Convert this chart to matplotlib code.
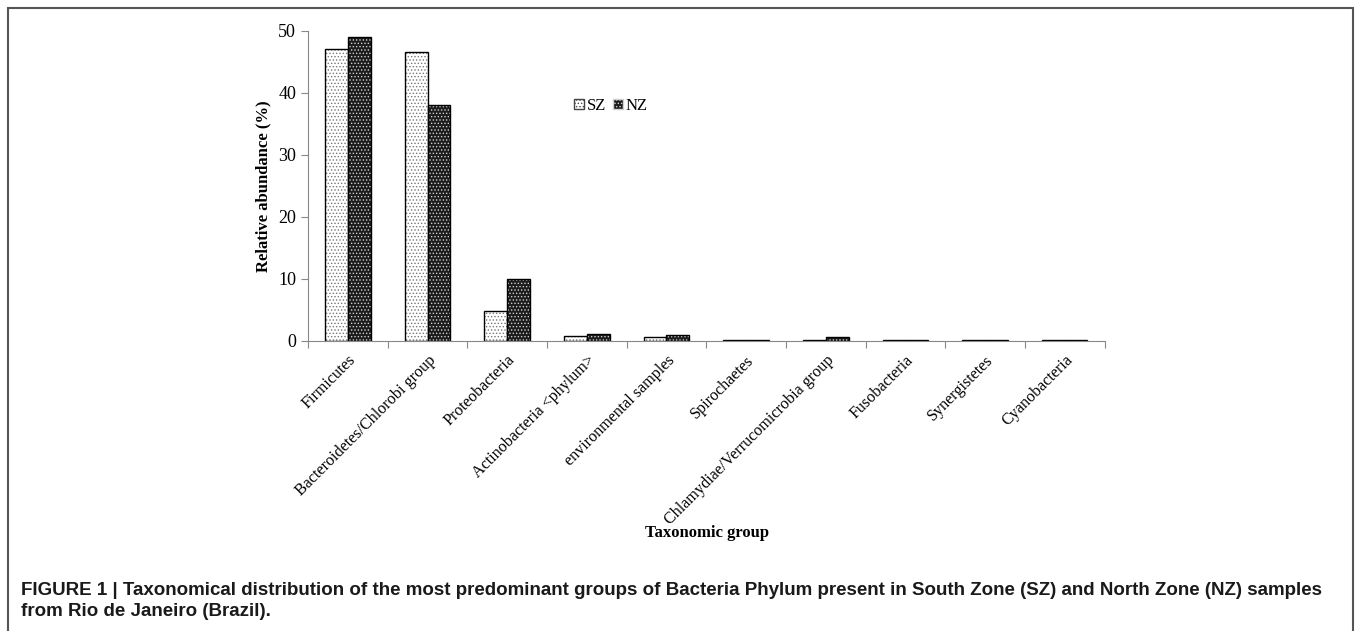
import matplotlib
matplotlib.use("Agg")
import matplotlib.pyplot as plt
import numpy as np
from matplotlib.patches import Patch, Rectangle

groups = ['Firmicutes', 'Bacteroidetes/Chlorobi group', 'Proteobacteria',
          'Actinobacteria <phylum>', 'environmental samples', 'Spirochaetes',
          'Chlamydiae/Verrucomicrobia group', 'Fusobacteria', 'Synergistetes',
          'Cyanobacteria']
sz = [47.1, 46.6, 4.9, 0.8, 0.6, 0.1, 0.1, 0.1, 0.1, 0.1]
nz = [49.1, 38.0, 10.0, 1.1, 0.9, 0.1, 0.6, 0.1, 0.1, 0.1]

plt.rcParams['hatch.linewidth'] = 0.6
serif = 'Liberation Serif'

fig = plt.figure(figsize=(13.57, 6.31), dpi=100)
ax = fig.add_axes([0.227, 0.4596, 0.587, 0.4914])

x = np.arange(len(groups))
w = 0.285
# SZ: white with fine grey dots
ax.bar(x - w / 2, sz, w, color='white', edgecolor='#777777', hatch='.....', lw=0)
ax.bar(x - w / 2, sz, w, fill=False, edgecolor='black', lw=1.0)
# NZ: dark with light dots, then black outline
ax.bar(x + w / 2, nz, w, color='#1c1c1c', edgecolor='#d0d0d0', hatch='.....', lw=0)
ax.bar(x + w / 2, nz, w, fill=False, edgecolor='black', lw=1.0)

ax.set_xlim(-0.5, len(groups) - 0.5)
ax.set_ylim(0, 50)
ax.set_yticks([0, 10, 20, 30, 40, 50])
ax.set_xticks(np.arange(len(groups) + 1) - 0.5, minor=False)
ax.set_xticklabels([])
ax.set_xticks(x, minor=True)
ax.set_xticklabels(groups, minor=True, rotation=45, ha='right',
                   rotation_mode='anchor', fontfamily=serif, fontsize=11.6)
ax.tick_params(axis='x', which='minor', length=0, pad=8)
ax.tick_params(axis='x', which='major', length=5, color='#888888')
ax.tick_params(axis='y', length=5, color='#888888', labelsize=13)
for lab in ax.get_yticklabels():
    lab.set_fontfamily(serif)
for s in ['top', 'right']:
    ax.spines[s].set_visible(False)
ax.spines['left'].set_color('#888888')
ax.spines['bottom'].set_color('#888888')

ax.set_ylabel('Relative abundance (%)', fontfamily=serif, fontweight='bold',
              fontsize=12, labelpad=5)
fig.text(0.521, 0.155, 'Taxonomic group', fontfamily=serif, fontweight='bold',
         fontsize=12, ha='center', va='center')

h_sz = Patch(facecolor='white', edgecolor='#444444', hatch='.....')
h_nz = Patch(facecolor='#1c1c1c', edgecolor='#d0d0d0', hatch='.....')
ax.legend([h_sz, h_nz], ['SZ', 'NZ'], loc='center', bbox_to_anchor=(0.38, 0.758),
          ncol=2, frameon=False, prop={'family': serif, 'size': 12},
          handlelength=0.6, handleheight=0.6, handletextpad=0.15, columnspacing=0.4)

fig.text(0.0155, 0.0475,
         'FIGURE 1 | Taxonomical distribution of the most predominant groups of Bacteria Phylum '
         'present in South Zone (SZ) and North Zone (NZ) samples\nfrom Rio de Janeiro (Brazil).',
         fontfamily='Liberation Sans', fontweight='bold', fontsize=13.5,
         ha='left', va='center', linespacing=1.33, color='#1a1a1a')

fig.patches.append(Rectangle((0.006, -0.01), 0.991, 0.997, transform=fig.transFigure,
                             fill=False, edgecolor='#555555', lw=1.5))

fig.savefig('out.png', dpi=100)
